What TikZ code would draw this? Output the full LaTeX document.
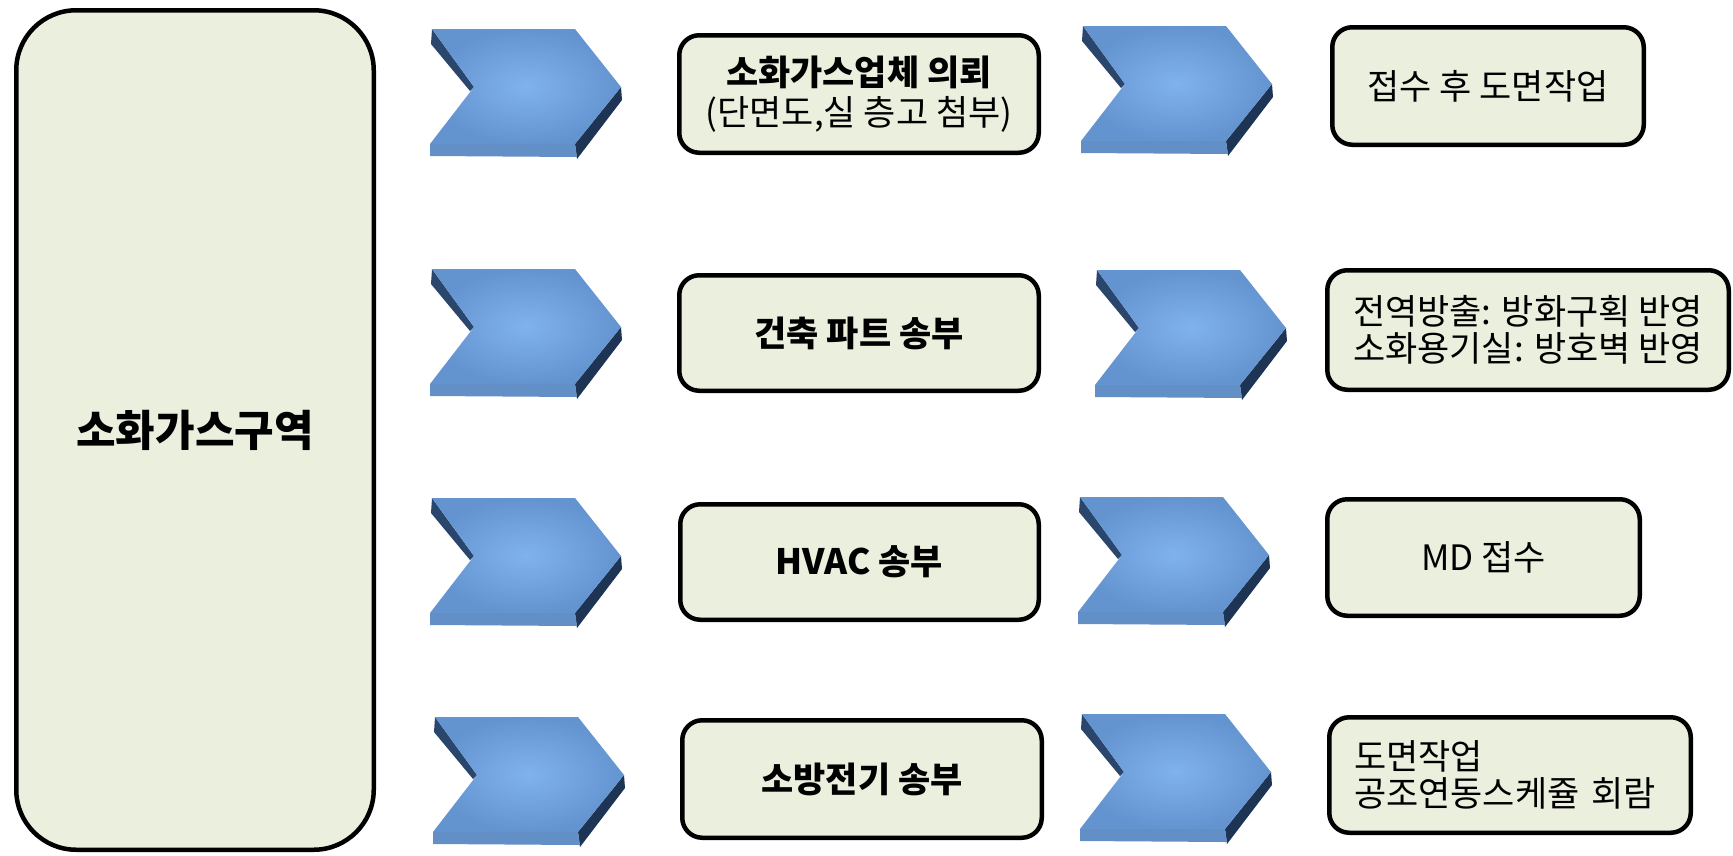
\documentclass[tikz,border=0pt]{standalone}
\usepackage{fontspec}
\setmainfont{Noto Sans CJK KR}
\definecolor{boxfill}{RGB}{235,239,222}
\definecolor{chevin}{RGB}{128,178,238}
\definecolor{chevout}{RGB}{100,148,208}
\definecolor{chevstrip}{RGB}{98,143,198}
\definecolor{chevdark}{RGB}{42,70,108}
\definecolor{chevdarkb}{RGB}{30,52,84}
\tikzset{
  box/.style={draw=black, line width=4.5pt, fill=boxfill, rounded corners=20pt,
    inner sep=0pt, align=center, text=black},
  midtxt/.style={font=\fontsize{35pt}{40pt}\selectfont},
  righttxt/.style={font=\fontsize{35pt}{37pt}\selectfont},
}
\newcommand\mychev[2]{%
\begin{scope}[shift={(#1,#2)}]
  \fill[chevdark] (0,0) -- (42,58) -- (38,62) -- (-1,15) -- cycle;
  \fill[chevdarkb] (189,58) -- (190,71) -- (145,130) -- (143,115) -- cycle;
  \fill[chevstrip] (-2,115) -- (143,115) -- (145,128) -- (-2,127) -- cycle;
  \shade[inner color=chevin, outer color=chevout]
    (0,0) -- (143,0) -- (189,58) -- (143,115) -- (-2,115) -- (42,58) -- cycle;
\end{scope}}
\begin{document}
\begin{tikzpicture}[x=1pt,y=-1pt]
\useasboundingbox (0,0) rectangle (1733,855);
% left big box
\node[box, rounded corners=60pt, minimum width=357.5pt, minimum height=839.5pt,
  font=\fontsize{43pt}{48pt}\selectfont\bfseries] (zone) at (195,430) {소화가스구역};
% chevrons
\mychev{432}{29}
\mychev{1083}{26}
\mychev{432}{269}
\mychev{1097}{270}
\mychev{432}{498}
\mychev{1080}{497}
\mychev{435}{717}
\mychev{1082}{714}
% middle boxes
\node[box, midtxt, minimum width=359.5pt, minimum height=117.5pt] (m1) at (859,94)
  {\textbf{소화가스업체 의뢰}\\(단면도,실 층고 첨부)};
\node[box, midtxt, minimum width=359.5pt, minimum height=115.5pt] (m2) at (859,333)
  {\textbf{건축 파트 송부}};
\node[box, midtxt, minimum width=358.5pt, minimum height=115.5pt] (m3) at (859.5,562)
  {\textbf{HVAC 송부}};
\node[box, midtxt, minimum width=359.5pt, minimum height=117.5pt] (m4) at (862,779)
  {\textbf{소방전기 송부}};
% right boxes
\node[box, righttxt, minimum width=311.5pt, minimum height=117.5pt] (r1) at (1488,86)
  {접수 후 도면작업};
\node[box, righttxt, minimum width=401.5pt, minimum height=119.5pt] (r2) at (1528,330)
  {전역방출: 방화구획 반영\\소화용기실: 방호벽 반영};
\node[box, righttxt, minimum width=312.5pt, minimum height=116.5pt] (r3) at (1483.5,557.5)
  {MD 접수};
\node[box, righttxt, align=left, inner xsep=24.75pt, text width=312pt,
  minimum height=115.5pt] (r4) at (1510,775)
  {도면작업\\공조연동스케쥴 회람};
\end{tikzpicture}
\end{document}
